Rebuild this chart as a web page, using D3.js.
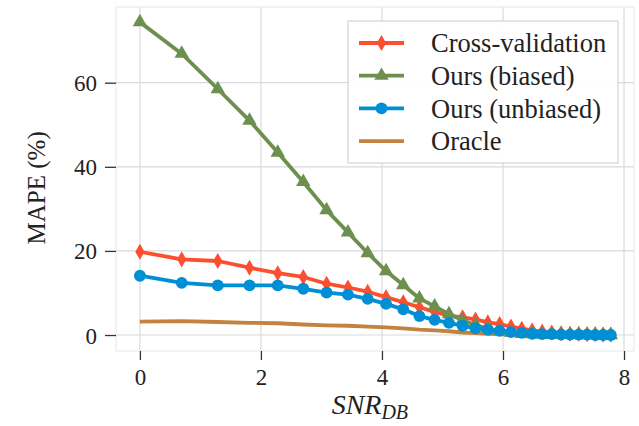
<!DOCTYPE html>
<html>
<head>
<meta charset="utf-8">
<script src="https://cdn.jsdelivr.net/npm/d3@7"></script>
<style>
  body { margin: 0; background: #fff; }
  svg text { font-family: "Liberation Serif", "Tinos", "Times New Roman", "Times", "Nimbus Roman", "DejaVu Serif", "Noto Serif", serif; fill: #222; }
</style>
</head>
<body>
<div id="chart"></div>
<script>
// SNR (dB) sample positions
let snr = [0, 0.691, 1.287, 1.811, 2.278, 2.700, 3.085, 3.438, 3.764, 4.068,
           4.352, 4.619, 4.870, 5.107, 5.332, 5.546, 5.750, 5.945, 6.131, 6.310,
           6.482, 6.647, 6.806, 6.960, 7.108, 7.251, 7.390, 7.524, 7.655, 7.782];

let crossValidation = [19.8, 18.0, 17.6, 16.0, 14.7, 13.8, 12.2, 11.3, 10.3, 9.0,
                       7.8, 6.6, 5.5, 4.6, 4.2, 3.7, 3.0, 2.6, 2.0, 1.5,
                       1.1, 0.8, 0.6, 0.4, 0.3, 0.3, 0.2, 0.2, 0.1, 0.1];

let oursBiased = [74.4, 66.9, 58.5, 51.0, 43.4, 36.4, 29.7, 24.4, 19.5, 15.2,
                  11.9, 8.7, 6.8, 5.0, 3.5, 2.4, 1.5, 1.0, 0.6, 0.3,
                  0.2, 0.1, 0.1, 0.1, 0.1, 0.0, 0.0, 0.0, 0.0, 0.0];

let oursUnbiased = [14.1, 12.4, 11.8, 11.8, 11.8, 11.0, 10.1, 9.6, 8.6, 7.4,
                    6.1, 4.5, 3.6, 2.9, 2.2, 1.6, 1.3, 1.0, 0.7, 0.5,
                    0.3, 0.2, 0.2, 0.1, 0.1, 0.1, 0.1, 0.0, 0.0, 0.0];

let oracle = [3.2, 3.3, 3.1, 2.9, 2.8, 2.5, 2.3, 2.2, 2.0, 1.8,
              1.6, 1.3, 1.1, 0.9, 0.6, 0.45, 0.3, 0.2, 0.1, 0.1,
              0.05, 0.05, 0.05, 0.05, 0.0, 0.0, 0.0, 0.0, 0.0, 0.0];

let xTicks = [0, 2, 4, 6, 8];
let yTicks = [0, 20, 40, 60];

let serifFont = "'Liberation Serif', 'Tinos', 'Times New Roman', 'DejaVu Serif', serif";

let width = 639, height = 426;
let margin = {top: 7, right: 5, bottom: 75, left: 116};

let svg = d3.select("#chart")
    .append("svg")
    .attr("width", width)
    .attr("height", height)
    .attr("font-family", serifFont);

let x = d3.scaleLinear()
    .domain([-0.395, 8.165])
    .range([margin.left, width - margin.right]);

let y = d3.scaleLinear()
    .domain([-3.8, 78])
    .range([height - margin.bottom, margin.top]);

// grid
let grid = svg.append("g");
grid.selectAll(".vg").data(xTicks).enter().append("line")
    .attr("x1", d => x(d)).attr("x2", d => x(d))
    .attr("y1", margin.top).attr("y2", height - margin.bottom)
    .attr("stroke", "#dadada").attr("stroke-width", 1.2);
grid.selectAll(".hg").data(yTicks).enter().append("line")
    .attr("x1", margin.left).attr("x2", width - margin.right)
    .attr("y1", d => y(d)).attr("y2", d => y(d))
    .attr("stroke", "#dadada").attr("stroke-width", 1.2);

// frame
svg.append("rect")
    .attr("x", margin.left).attr("y", margin.top)
    .attr("width", width - margin.left - margin.right)
    .attr("height", height - margin.top - margin.bottom)
    .attr("fill", "none").attr("stroke", "#e6e6e6").attr("stroke-width", 1);

// axes
let xAxis = svg.append("g")
    .attr("transform", `translate(0,${height - margin.bottom})`)
    .call(d3.axisBottom(x).tickValues(xTicks).tickSize(9).tickPadding(9).tickFormat(d3.format("d")));
let yAxis = svg.append("g")
    .attr("transform", `translate(${margin.left},0)`)
    .call(d3.axisLeft(y).tickValues(yTicks).tickSize(11).tickPadding(8).tickFormat(d3.format("d")));

[xAxis, yAxis].forEach(a => {
    a.attr("font-family", serifFont);
    a.select(".domain").remove();
    a.selectAll(".tick line").attr("stroke", "#333").attr("stroke-width", 1.3);
    a.selectAll(".tick text").style("font-size", "23px")
        .style("font-family", serifFont).attr("fill", "#222");
});
yAxis.selectAll(".tick text").attr("dy", "0.35em");

// labels
svg.append("text")
    .attr("transform", `translate(${45}, ${y(35)}) rotate(-90)`)
    .style("text-anchor", "middle")
    .style("font-size", "25px")
    .text("MAPE (%)");

let xl = svg.append("text")
    .attr("x", x(3.8))
    .attr("y", 414)
    .style("text-anchor", "middle")
    .style("font-size", "28px")
    .style("font-style", "italic");
xl.append("tspan").text("SNR");
xl.append("tspan").attr("dy", 5).style("font-size", "20px").text("DB");

// series
let series = [
    {name: "Oracle", values: oracle, color: "#c2833f", marker: null},
    {name: "Cross-validation", values: crossValidation, color: "#fc4f30", marker: "diamond"},
    {name: "Ours (biased)", values: oursBiased, color: "#6d904f", marker: "triangle"},
    {name: "Ours (unbiased)", values: oursUnbiased, color: "#008fd5", marker: "circle"}
];

let symbols = {
    diamond: d3.symbol().type(d3.symbolDiamond).size(75),
    triangle: d3.symbol().type(d3.symbolTriangle).size(90),
    circle: d3.symbol().type(d3.symbolCircle).size(110)
};

let line = d3.line()
    .x(d => x(d[0]))
    .y(d => y(d[1]));

let plot = svg.append("g");
series.forEach(s => {
    let pts = snr.map((v, i) => [v, s.values[i]]);
    plot.append("path")
        .datum(pts)
        .attr("fill", "none")
        .attr("stroke", s.color)
        .attr("stroke-width", 3.8)
        .attr("stroke-linejoin", "round")
        .attr("d", line);
    if (s.marker) {
        plot.selectAll(null).data(pts).enter().append("path")
            .attr("transform", d => `translate(${x(d[0])},${y(d[1])})`)
            .attr("d", symbols[s.marker])
            .attr("fill", s.color);
    }
});

// legend
let legendOrder = ["Cross-validation", "Ours (biased)", "Ours (unbiased)", "Oracle"];
let legend = svg.append("g");
legend.append("rect")
    .attr("x", 348).attr("y", 21)
    .attr("width", 270).attr("height", 142)
    .attr("fill", "#fff").attr("fill-opacity", 0.92)
    .attr("stroke", "#cccccc").attr("stroke-width", 1);

legendOrder.forEach((name, i) => {
    let s = series.find(d => d.name === name);
    let ly = 43 + i * 32.7;
    legend.append("line")
        .attr("x1", 359).attr("x2", 404)
        .attr("y1", ly).attr("y2", ly)
        .attr("stroke", s.color).attr("stroke-width", 3.8);
    if (s.marker) {
        legend.append("path")
            .attr("transform", `translate(381.5,${ly})`)
            .attr("d", symbols[s.marker])
            .attr("fill", s.color);
    }
    legend.append("text")
        .attr("x", 431).attr("y", ly)
        .attr("dy", "0.35em")
        .style("font-size", "26.5px")
        .text(name);
});
</script>
</body>
</html>
